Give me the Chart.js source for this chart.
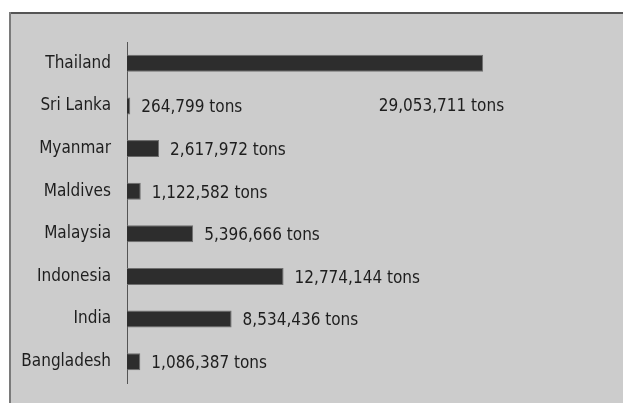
<!DOCTYPE html>
<html>
<head>
<meta charset="utf-8">
<script src="https://cdn.jsdelivr.net/npm/chart.js@4"></script>
<style>
  html, body { margin: 0; padding: 0; background: #fff; overflow: hidden; }
  canvas { display: block; }
</style>
</head>
<body>
<canvas id="chart-rice" width="623" height="403"></canvas>
<script>
const countries = ['Thailand', 'Sri Lanka', 'Myanmar', 'Maldives', 'Malaysia', 'Indonesia', 'India', 'Bangladesh']
const tons = [29053711, 264799, 2617972, 1122582, 5396666, 12774144, 8534436, 1086387]

const FONT = "'DejaVu Sans Condensed', 'Liberation Sans', sans-serif"

// gray panel with a dark edge on top and left
const panel = {
    id: 'panel',
    beforeDraw(chart) {
        const ctx = chart.ctx
        ctx.save()
        ctx.fillStyle = '#fff'
        ctx.fillRect(0, 0, chart.width, chart.height)
        ctx.fillStyle = '#cccccc'
        ctx.fillRect(10, 14, chart.width - 10, chart.height - 14)
        ctx.fillStyle = '#555'
        ctx.fillRect(9, 12, chart.width - 9, 2)
        ctx.fillStyle = '#7a7a7a'
        ctx.fillRect(9, 12, 2, chart.height - 12)
        ctx.restore()
    }
}

// "n tons" next to each bar, the biggest one sits under its bar
const valueLabels = {
    id: 'valueLabels',
    afterDatasetsDraw(chart) {
        const ctx = chart.ctx
        const meta = chart.getDatasetMeta(0)
        const yScale = chart.scales.y
        ctx.save()
        ctx.font = '17px ' + FONT
        ctx.fillStyle = '#1e1e1e'
        ctx.textBaseline = 'middle'
        meta.data.forEach((bar, i) => {
            const text = tons[i].toLocaleString('en-US') + ' tons'
            if (i === 0) {
                ctx.textAlign = 'right'
                ctx.fillText(text, bar.x + 21, yScale.getPixelForValue(1) + 1)
            } else {
                ctx.textAlign = 'left'
                ctx.fillText(text, bar.x + 11, bar.y + 2)
            }
        })
        ctx.restore()
    }
}

const data = {
    labels: countries,
    datasets: [{
        data: tons,
        backgroundColor: '#2d2d2d',
        borderColor: '#6e6e6e',
        borderWidth: 1,
        barPercentage: 0.4,
        categoryPercentage: 1
    }]
}

const options = {
    indexAxis: 'y',
    responsive: false,
    animation: false,
    layout: { padding: { top: 42, bottom: 20, left: 0, right: 67 } },
    plugins: {
        legend: { display: false },
        tooltip: { enabled: false }
    },
    scales: {
        x: {
            display: false,
            min: 0,
            max: 35000000
        },
        y: {
            afterFit(scale) {
                scale.width = 127
                scale.paddingTop = 0
                scale.paddingBottom = 0
            },
            grid: { display: false, drawTicks: false },
            border: { display: true, color: '#555', width: 1 },
            ticks: {
                padding: 16,
                color: '#1e1e1e',
                font: { family: FONT, size: 17 }
            }
        }
    }
}

new Chart('chart-rice', { type: 'bar', data, options, plugins: [panel, valueLabels] })
</script>
</body>
</html>
